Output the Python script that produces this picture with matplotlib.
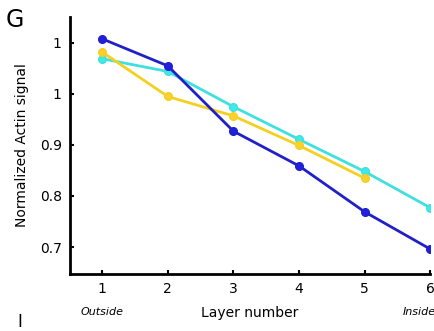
import numpy as np
import matplotlib.pyplot as plt

layers = [1, 2, 3, 4, 5, 6]
blue = [1.108, 1.055, 0.927, 0.859, 0.769, 0.696]
cyan = [1.069, 1.044, 0.975, 0.911, 0.848, 0.777]
yellow = [1.082, 0.995, 0.957, 0.899, 0.835]

yticks = [0.7, 0.8, 0.9, 1.0, 1.1]
ytick_labels = ['0.7', '0.8', '0.9', '1', '1']

fig = plt.figure(figsize=(4.35, 3.31), dpi=100)
ax = fig.add_axes([0.161, 0.172, 0.828, 0.777])

ax.plot(layers, blue, color='#2020c8', lw=2, marker='o', ms=5.5,
        mfc='#2020e0', zorder=3)
ax.plot(layers, cyan, color='#40e0e0', lw=2, marker='o', ms=5.5,
        mfc='#40e8e8', zorder=2)
ax.plot(layers[:5], yellow, color='#f5d020', lw=2, marker='o', ms=5.5,
        mfc='#f8d030', zorder=2)

ax.set_xlim(0.51, 6.0)
ax.set_ylim(0.647, 1.151)
ax.set_xticks(layers)
ax.set_yticks(yticks)
ax.set_yticklabels(ytick_labels)
ax.tick_params(labelsize=10, direction='in', length=3, width=1.5, pad=6)
for s in ['top', 'right']:
    ax.spines[s].set_visible(False)
for s in ['left', 'bottom']:
    ax.spines[s].set_linewidth(2)

ax.set_ylabel('Normalized Actin signal', fontsize=10, labelpad=8)
ax.set_xlabel('Layer number', fontsize=10, labelpad=7)

fig.text(0.235, 0.058, 'Outside', fontsize=8, style='italic',
         ha='center', va='center')
fig.text(0.963, 0.058, 'Inside', fontsize=8, style='italic',
         ha='center', va='center')
fig.text(0.012, 0.94, 'G', fontsize=17, ha='left', va='center')
fig.text(0.045, 0.0, 'I', fontsize=12, ha='center', va='bottom')

fig.savefig('out.png', dpi=100)
